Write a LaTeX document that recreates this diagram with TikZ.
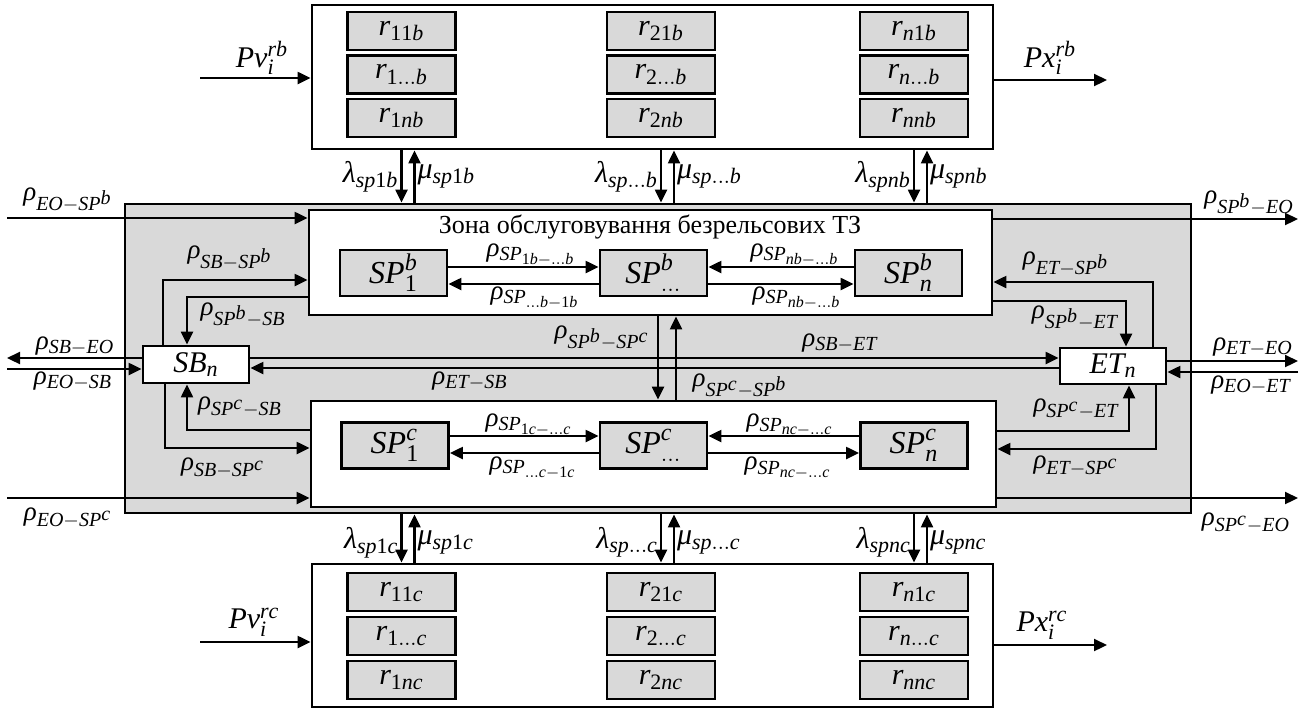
\documentclass[tikz,border=0pt]{standalone}
\usepackage[no-math]{fontspec}
\setmainfont{Liberation Serif}
\newfontfamily\lsfamily{Liberation Serif}[NFSSFamily=lsmath]
\DeclareSymbolFont{lsit}{TU}{lsmath}{m}{it}
\DeclareSymbolFont{lsup}{TU}{lsmath}{m}{n}
\newcount\mcnt
\mcnt=`a \loop \Umathcode\mcnt=7 \symlsit \mcnt \ifnum\mcnt<`z \advance\mcnt by 1 \repeat
\mcnt=`A \loop \Umathcode\mcnt=7 \symlsit \mcnt \ifnum\mcnt<`Z \advance\mcnt by 1 \repeat
\mcnt=`0 \loop \Umathcode\mcnt=0 \symlsup \mcnt \ifnum\mcnt<`9 \advance\mcnt by 1 \repeat
\Umathchardef\rho=0 \symlsit "03C1
\Umathchardef\lambda=0 \symlsit "03BB
\Umathchardef\mu=0 \symlsit "03BC
\newcommand\hsup[1]{^{\scriptstyle #1}}
\usepackage{tikz}
\usetikzlibrary{arrows.meta,calc,positioning}
\DeclareMathSizes{13.5}{13.5}{10}{8}
\DeclareMathSizes{15}{15}{11}{8.5}
\DeclareMathSizes{16}{16}{12}{9}
\definecolor{zonegrey}{RGB}{217,217,217}
\tikzset{
  rbox/.style={draw,line width=1.4pt,fill=zonegrey,minimum width=54pt,
               minimum height=19pt,inner sep=0pt,font=\fontsize{15}{18}\selectfont},
  spbox/.style={draw,line width=1.4pt,fill=zonegrey,minimum width=53.5pt,
                minimum height=23pt,inner sep=0pt,font=\fontsize{16}{19}\selectfont},
  zone/.style={draw,line width=1.4pt,fill=white,inner sep=0pt},
  arr/.style={-{Triangle[length=6.5pt,width=6pt]},line width=1.1pt},
  lbl/.style={inner sep=1pt,font=\fontsize{13.5}{16}\selectfont},
  lam/.style={inner sep=1pt,font=\fontsize{15}{18}\selectfont},
}

\begin{document}
\begin{tikzpicture}[x=0.5pt,y=-0.5pt]
  \useasboundingbox (0,0) rectangle (1312,709);

  % --- blocks of resources -------------------------------------------------
  \node[zone,minimum width=340.5pt,minimum height=72pt]   (rb) at (652.5,77) {};
  \node[zone,minimum width=340.5pt,minimum height=71.5pt] (rc) at (652.5,635.5) {};
  \foreach \k/\m/\x in {1/1/401.5,2/2/661,3/n/914} {
    \node[rbox] (rb\k1) at (\x,31)   {$r_{\m 1b}$};
    \node[rbox] (rb\k2) at (\x,74.5) {$r_{\m\ldots b}$};
    \node[rbox] (rb\k3) at (\x,118)  {$r_{\m nb}$};
    \node[rbox] (rc\k1) at (\x,592)  {$r_{\m 1c}$};
    \node[rbox] (rc\k2) at (\x,636)  {$r_{\m\ldots c}$};
    \node[rbox] (rc\k3) at (\x,680)  {$r_{\m nc}$};
  }

  % --- service area ----------------------------------------------------------
  \node[draw,line width=1.4pt,fill=zonegrey,minimum width=533pt,
        minimum height=154.5pt,inner sep=0pt] (gz) at (658,358.5) {};
  \node[zone,minimum width=341.5pt,minimum height=52.5pt] (zb) at (650.5,262.5) {};
  \node[zone,minimum width=342.5pt,minimum height=53pt]   (zc) at (653.5,454) {};
  \node[font=\fontsize{13}{15}\selectfont,inner sep=1pt] (title) at (650,227)
        {Зона обслуговування безрельсових ТЗ};

  \node[spbox] (SP1b) at (393.5,273) {$SP_1^b$};
  \node[spbox] (SPmb) at (653.5,273) {$SP_{\ldots}^b$};
  \node[spbox] (SPnb) at (908.5,273) {$SP_n^b$};
  \node[spbox] (SP1c) at (395,445.5) {$SP_1^c$};
  \node[spbox] (SPmc) at (653.5,445.5) {$SP_{\ldots}^c$};
  \node[spbox] (SPnc) at (914,445.5) {$SP_n^c$};

  \node[zone,minimum width=53pt,minimum height=18.5pt,font=\fontsize{15}{18}\selectfont]
        (SB) at (196,364.5) {$SB_n$};
  \node[zone,minimum width=53pt,minimum height=18pt,font=\fontsize{15}{18}\selectfont]
        (ET) at (1113,366) {$ET_n$};

  % --- turning points --------------------------------------------------------
  \coordinate (pvb) at (200,78);   \coordinate (pxb) at (1107,80);
  \coordinate (pvc) at (200,642);  \coordinate (pxc) at (1107,645);
  \coordinate (eob) at (7,218);    \coordinate (beo) at (1298,219);
  \coordinate (eoc) at (7,498);    \coordinate (ceo) at (1298,498);
  \coordinate (sbeo) at (7,358);   \coordinate (eosb) at (7,369);
  \coordinate (eteo) at (1298,361); \coordinate (eoet) at (1298,372);
  \coordinate (sbet) at (0,358);   \coordinate (etsb) at (0,368);
  \coordinate (sbb) at (163,280);  \coordinate (bsb) at (187,297);
  \coordinate (csb) at (187,430);  \coordinate (sbc) at (165,448);
  \coordinate (etb) at (1153,282); \coordinate (bet) at (1126,301);
  \coordinate (cet) at (1129,431); \coordinate (etc) at (1156,449);
  \coordinate (bc) at (658,0);     \coordinate (cb) at (676,0);

  % --- inputs and outputs of the resource blocks ----------------------------
  \draw[arr] (pvb) -- (pvb -| rb.west);
  \draw[arr] (pxb -| rb.east) -- (pxb);
  \draw[arr] (pvc) -- (pvc -| rc.west);
  \draw[arr] (pxc -| rc.east) -- (pxc);
  \node[lam] (lpvb) at (262,58)   {$Pv_i^{rb}$};
  \node[lam] (lpxb) at (1050,58)  {$Px_i^{rb}$};
  \node[lam] (lpvc) at (254,622)  {$Pv_i^{rc}$};
  \node[lam] (lpxc) at (1042,625) {$Px_i^{rc}$};

  % lambda / mu between resources and points
  \foreach \k/\s in {1/1b,2/\ldots b,3/nb} {
    \draw[arr] (rb\k3.south |- rb.south) -- (rb\k3.south |- gz.north)
      node[lam,midway,left] {$\lambda_{sp\s}$};
    \draw[arr] ($(rb\k3.south |- gz.north)+(13,0)$) -- ($(rb\k3.south |- rb.south)+(13,0)$)
      node[lam,midway,right] {$\mu_{sp\s}$};
  }
  \foreach \k/\s in {1/1c,2/\ldots c,3/nc} {
    \draw[arr] (rc\k1.south |- gz.south) -- (rc\k1.south |- rc.north)
      node[lam,midway,left,yshift=-2pt] {$\lambda_{sp\s}$};
    \draw[arr] ($(rc\k1.south |- rc.north)+(13,0)$) -- ($(rc\k1.south |- gz.south)+(13,0)$)
      node[lam,midway,right,yshift=-2pt] {$\mu_{sp\s}$};
  }

  % --- flows between points ----------------------------------------------
  \draw[arr] ([yshift=3pt]SP1b.east) -- ([yshift=3pt]SP1b.east -| SPmb.west);
  \draw[arr] ([yshift=-5.5pt]SPmb.west) -- ([yshift=-5.5pt]SPmb.west -| SP1b.east);
  \draw[arr] ([yshift=3pt]SPnb.west) -- ([yshift=3pt]SPnb.west -| SPmb.east);
  \draw[arr] ([yshift=-5.5pt]SPmb.east) -- ([yshift=-5.5pt]SPmb.east -| SPnb.west);
  \draw[arr] ([yshift=4.75pt]SP1c.east) -- ([yshift=4.75pt]SP1c.east -| SPmc.west);
  \draw[arr] ([yshift=-3.75pt]SPmc.west) -- ([yshift=-3.75pt]SPmc.west -| SP1c.east);
  \draw[arr] ([yshift=4.75pt]SPnc.west) -- ([yshift=4.75pt]SPnc.west -| SPmc.east);
  \draw[arr] ([yshift=-3.75pt]SPmc.east) -- ([yshift=-3.75pt]SPmc.east -| SPnc.west);
  \node[lbl] (l1b) at (531,255) {$\rho_{SP_{1b-\ldots b}}$};
  \node[lbl] (lb1) at (535,298) {$\rho_{SP_{\ldots b-1b}}$};
  \node[lbl] (lnb) at (795,255) {$\rho_{SP_{nb-\ldots b}}$};
  \node[lbl] (lbn) at (797,298) {$\rho_{SP_{nb-\ldots b}}$};
  \node[lbl] (l1c) at (529,425) {$\rho_{SP_{1c-\ldots c}}$};
  \node[lbl] (lc1) at (533,468) {$\rho_{SP_{\ldots c-1c}}$};
  \node[lbl] (lnc) at (790,425) {$\rho_{SP_{nc-\ldots c}}$};
  \node[lbl] (lcn) at (788,468) {$\rho_{SP_{nc-\ldots c}}$};

  % between the two zones
  \draw[arr] (bc |- zb.south) -- (bc |- zc.north);
  \draw[arr] (cb |- zc.north) -- (cb |- zb.south);
  \node[lbl] (lbc) at (602,338) {$\rho_{SP\hsup{b}-SP\hsup{c}}$};
  \node[lbl] (lcb) at (740,386) {$\rho_{SP\hsup{c}-SP\hsup{b}}$};

  % --- SB side ---------------------------------------------------------------
  \draw[arr] (eob) -- (eob -| zb.west);
  \draw[arr] (eoc) -- (eoc -| zc.west);
  \draw[arr] (sbeo -| SB.west) -- (sbeo);
  \draw[arr] (eosb) -- (eosb -| SB.west);
  \draw[arr] (sbb |- SB.north) -- (sbb) -- (sbb -| zb.west);
  \draw[arr] (bsb -| zb.west) -- (bsb) -- (bsb |- SB.north);
  \draw[arr] (csb -| zc.west) -- (csb) -- (csb |- SB.south);
  \draw[arr] (sbc |- SB.south) -- (sbc) -- (sbc -| zc.west);
  \node[lbl] (leob)  at (68,200)  {$\rho_{EO-SP\hsup{b}}$};
  \node[lbl] (lsbb)  at (230,258) {$\rho_{SB-SP\hsup{b}}$};
  \node[lbl] (lbsb)  at (243,315) {$\rho_{SP\hsup{b}-SB}$};
  \node[lbl] (lsbeo) at (75,346)  {$\rho_{SB-EO}$};
  \node[lbl] (leosb) at (73,381)  {$\rho_{EO-SB}$};
  \node[lbl] (lcsb)  at (240,407) {$\rho_{SP\hsup{c}-SB}$};
  \node[lbl] (lsbc)  at (223,468) {$\rho_{SB-SP\hsup{c}}$};
  \node[lbl] (leoc)  at (68,518)  {$\rho_{EO-SP\hsup{c}}$};

  % --- SB <-> ET ---------------------------------------------------------------
  \draw[arr] (sbet -| SB.east) -- (sbet -| ET.west);
  \draw[arr] (etsb -| ET.west) -- (etsb -| SB.east);
  \node[lbl] (lsbet) at (840,343) {$\rho_{SB-ET}$};
  \node[lbl] (letsb) at (470,381) {$\rho_{ET-SB}$};

  % --- ET side ---------------------------------------------------------------
  \draw[arr] (beo -| zb.east) -- (beo);
  \draw[arr] (ceo -| zc.east) -- (ceo);
  \draw[arr] (eteo -| ET.east) -- (eteo);
  \draw[arr] (eoet) -- (eoet -| ET.east);
  \draw[arr] (etb |- ET.north) -- (etb) -- (etb -| zb.east);
  \draw[arr] (bet -| zb.east) -- (bet) -- (bet |- ET.north);
  \draw[arr] (cet -| zc.east) -- (cet) -- (cet |- ET.south);
  \draw[arr] (etc |- ET.south) -- (etc) -- (etc -| zc.east);
  \node[lbl] (lbeo)  at (1249,203) {$\rho_{SP\hsup{b}-EO}$};
  \node[lbl] (letb)  at (1066,264) {$\rho_{ET-SP\hsup{b}}$};
  \node[lbl] (lbet)  at (1075,318) {$\rho_{SP\hsup{b}-ET}$};
  \node[lbl] (leteo) at (1253,347) {$\rho_{ET-EO}$};
  \node[lbl] (leoet) at (1251,385) {$\rho_{EO-ET}$};
  \node[lbl] (lcet)  at (1076,409) {$\rho_{SP\hsup{c}-ET}$};
  \node[lbl] (letc)  at (1076,466) {$\rho_{ET-SP\hsup{c}}$};
  \node[lbl] (lceo)  at (1246,523) {$\rho_{SP\hsup{c}-EO}$};
\end{tikzpicture}
\end{document}
